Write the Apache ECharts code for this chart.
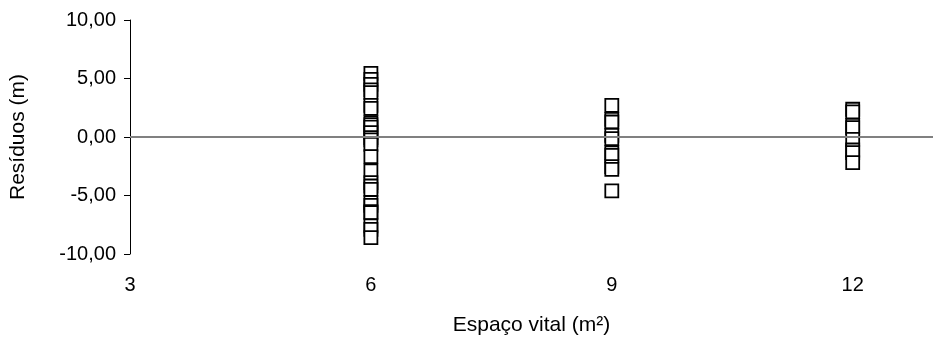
<!DOCTYPE html>
<html>
<head>
<meta charset="utf-8">
<script src="https://cdn.jsdelivr.net/npm/echarts@6/dist/echarts.min.js"></script>
<style>
  html, body { margin: 0; padding: 0; background: #fff; }
  #chart { width: 933px; height: 343px; }
</style>
</head>
<body>
<div id="chart"></div>
<script>
// Residuals of height (m) grouped by living space (m²)
const xTicks = [3, 6, 9, 12];
const residuals6 = [5.44, 4.93, 4.5, 4.02, 3.79, 2.71, 2.45, 1.23, 1.06, 0.85, 0.37, -0.05, -0.25, -0.62,
  -1.68, -2.9, -3.9, -4.19, -4.47, -5.6, -5.84, -6.38, -6.47, -7.6, -7.9, -8.6];
const residuals9 = [2.71, 1.51, 1.28, 0.15, -0.14, -1.33, -1.56, -2.53, -2.76, -4.61];
const residuals12 = [2.37, 2.14, 1.0, 0.8, -0.2, -1.11, -1.33, -2.19];

const groups = [[6, residuals6], [9, residuals9], [12, residuals12]];
const points = [];
groups.forEach(([x, vals]) => vals.forEach(v => points.push([x, v])));

const font = '"Liberation Sans", Arial, sans-serif';
const chart = echarts.init(document.getElementById('chart'));
chart.setOption({
  animation: false,
  backgroundColor: '#ffffff',
  grid: { left: 125, top: 20, bottom: 89, right: -10, containLabel: false },
  xAxis: {
    type: 'value', min: 3, max: 13, interval: 3,
    name: 'Espaço vital (m²)', nameLocation: 'middle', nameGap: 61,
    nameTextStyle: { fontFamily: font, fontSize: 21, color: '#000' },
    axisLine: { show: false }, axisTick: { show: false }, splitLine: { show: false },
    axisLabel: { fontFamily: font, fontSize: 20, color: '#000', margin: 21, showMaxLabel: false,
      formatter: v => (xTicks.includes(v) ? String(v) : '') }
  },
  yAxis: {
    type: 'value', min: -10, max: 10, interval: 5,
    name: 'Resíduos (m)', nameLocation: 'middle', nameGap: 101, nameRotate: 90,
    nameTextStyle: { fontFamily: font, fontSize: 21, color: '#000' },
    axisLine: { show: true, onZero: false, lineStyle: { color: '#000', width: 1 } },
    axisTick: { show: true, inside: false, length: 6, lineStyle: { color: '#000', width: 1 } },
    splitLine: { show: false },
    axisLabel: { fontFamily: font, fontSize: 20, color: '#000', margin: 14,
      formatter: v => v.toFixed(2).replace('.', ',') }
  },
  series: [{
    type: 'scatter',
    data: points,
    symbol: 'rect',
    symbolSize: 13,
    itemStyle: { color: '#ffffff', borderColor: '#000000', borderWidth: 1.8, opacity: 1 },
    markLine: {
      silent: true, symbol: 'none', label: { show: false },
      lineStyle: { color: '#808080', width: 2, type: 'solid' },
      data: [{ yAxis: 0 }]
    },
    z: 3
  }]
});
</script>
</body>
</html>
